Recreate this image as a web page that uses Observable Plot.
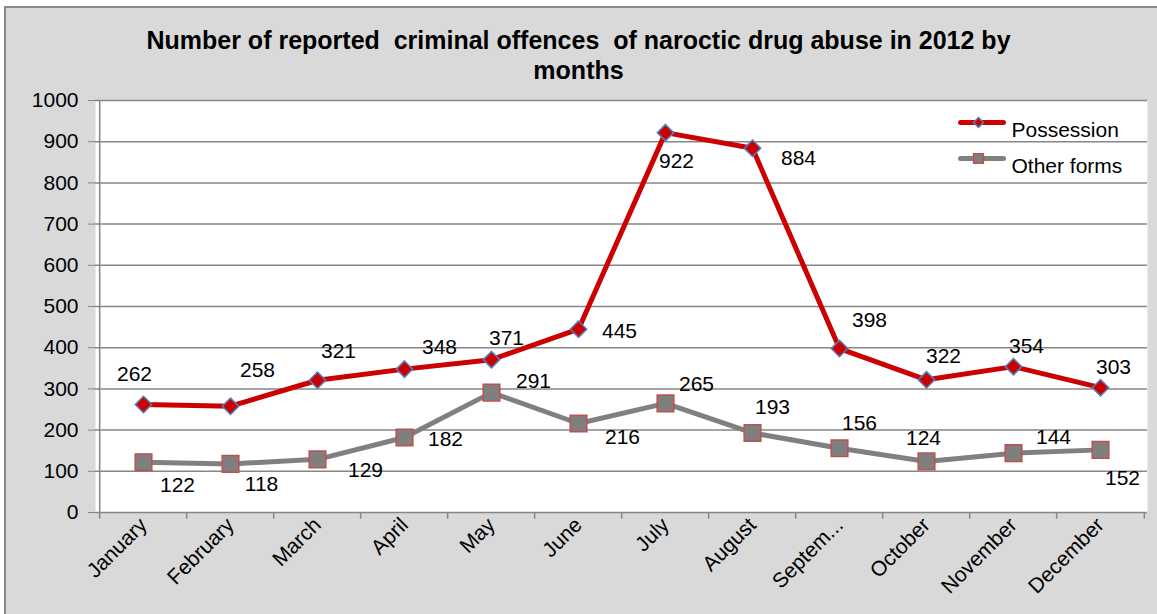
<!DOCTYPE html>
<html>
<head>
<meta charset="utf-8">
<script src="https://cdn.jsdelivr.net/npm/d3@7"></script>
<script src="https://cdn.jsdelivr.net/npm/@observablehq/plot@0.6"></script>
<style>
  html, body { margin: 0; padding: 0; background: #ffffff; overflow: hidden; }
  #page { position: relative; width: 1157px; height: 614px; font-family: "Liberation Sans", Arial, sans-serif; }
  #bg { position: absolute; left: 4px; top: 6px; width: 1160px; height: 620px; background: #d9d9d9;
        border-left: 2px solid #8a8a8a; border-top: 2px solid #8a8a8a; z-index: 0; }
  #content { position: relative; z-index: 1; padding-top: 25px; }
  #title { text-align: center; font-weight: bold; font-size: 25px; line-height: 30px; white-space: pre; color: #000; height: 60px; }
  #chart svg { display: block; overflow: visible; }
  #chart [aria-label="y-axis tick"], #chart [aria-label="y-axis"] .tick line { stroke: #868686; }
</style>
</head>
<body>
<div id="page">
  <div id="bg"></div>
  <div id="content">
    <div id="title">Number of reported  criminal offences  of naroctic drug abuse in 2012 by
months</div>
    <div id="chart"></div>
  </div>
</div>
<script>
// ---- data ----
const months = ["January", "February", "March", "April", "May", "June", "July", "August", "Septem...", "October", "November", "December"];
const possession = [262, 258, 321, 348, 371, 445, 922, 884, 398, 322, 354, 303];
const otherForms = [122, 118, 129, 182, 291, 216, 265, 193, 156, 124, 144, 152];
const yTicks = [0, 100, 200, 300, 400, 500, 600, 700, 800, 900, 1000];
const seriesNames = ["Possession", "Other forms"];
// data-label placement (pixel offsets from each point), as in the reference
const possLabelOffsets = [[-9,-30],[27,-36],[21,-29],[35,-22],[15,-21],[41,2],[11,29],[46,10],[30,-28],[17,-24],[13,-20],[13,-20]];
const otherLabelOffsets = [[34,23],[31,20],[48,11],[41,2],[42,-11],[44,14],[31,-19],[20,-26],[20,-25],[-3,-23],[40,-16],[22,28]];

// ---- build ----
const W = 1157, H = 529, mL = 95, mR = 10, mT = 15, mB = 102;
const step = (W - mL - mR) / months.length;
const possData = months.map((m, i) => ({month: m, value: possession[i]}));
const otherData = months.map((m, i) => ({month: m, value: otherForms[i]}));

const RED = "#cc0000", RED_EDGE = "#4f81bd";
const GRAY = "#808080", GRAY_EDGE = "#c0504d";
const GRID = "#868686";

const lineSymbol = { draw(ctx) { ctx.moveTo(-21.5, 0); ctx.lineTo(21.5, 0); } };

const labelMarks = [];
possData.forEach((d, i) => {
  labelMarks.push(Plot.text([d], {x: "month", y: "value", text: d => String(d.value),
    dx: possLabelOffsets[i][0], dy: possLabelOffsets[i][1], fontSize: 21, fill: "#000"}));
});
otherData.forEach((d, i) => {
  labelMarks.push(Plot.text([d], {x: "month", y: "value", text: d => String(d.value),
    dx: otherLabelOffsets[i][0], dy: otherLabelOffsets[i][1], fontSize: 21, fill: "#000"}));
});

const chart = Plot.plot({
  width: W, height: H,
  marginLeft: mL, marginRight: mR, marginTop: mT, marginBottom: mB,
  style: {background: "transparent", fontFamily: "'Liberation Sans', Arial, sans-serif", fontSize: "21px", color: "#000", overflow: "visible"},
  x: {type: "point", domain: months, padding: 0.5, label: null, tickSize: 0, tickPadding: 9, tickRotate: -45},
  y: {domain: [0, 1000], ticks: yTicks, tickFormat: d => String(d), label: null, tickSize: 7, tickPadding: 10},
  marks: [
    Plot.frame({fill: "#ffffff", stroke: null}),
    Plot.ruleY(yTicks, {stroke: GRID, strokeWidth: 1.5}),
    Plot.ruleX([months[0]], {dx: -step / 2, stroke: GRID, strokeWidth: 1.5}),
    Plot.ruleX(months, {y1: 0, y2: -16, dx: -step / 2, stroke: GRID, strokeWidth: 1.5}),
    Plot.ruleX([months[months.length - 1]], {y1: 0, y2: -16, dx: step / 2, stroke: GRID, strokeWidth: 1.5}),
    Plot.line(possData, {x: "month", y: "value", stroke: RED, strokeWidth: 5, strokeLinejoin: "round"}),
    Plot.line(otherData, {x: "month", y: "value", stroke: GRAY, strokeWidth: 5, strokeLinejoin: "round"}),
    Plot.dot(possData, {x: "month", y: "value", symbol: "diamond2", r: 7.4, fill: RED, stroke: RED_EDGE, strokeWidth: 1.5}),
    Plot.dot(otherData, {x: "month", y: "value", symbol: "square", r: 9.4, fill: "#7f7f7f", stroke: GRAY_EDGE, strokeWidth: 1.5}),
    ...labelMarks,
    // legend (inside plot, top-right)
    Plot.dot([0], {frameAnchor: "top-right", dx: -165.5, dy: 22, symbol: lineSymbol, r: 1, fill: "none", stroke: RED, strokeWidth: 5, strokeLinecap: "round"}),
    Plot.dot([0], {frameAnchor: "top-right", dx: -169, dy: 22, symbol: "diamond2", r: 4.5, fill: RED, stroke: RED_EDGE, strokeWidth: 1.5}),
    Plot.text([seriesNames[0]], {frameAnchor: "top-right", dx: -136, dy: 22, text: d => d, textAnchor: "start", fontSize: 21, fill: "#000"}),
    Plot.dot([0], {frameAnchor: "top-right", dx: -165.5, dy: 58, symbol: lineSymbol, r: 1, fill: "none", stroke: GRAY, strokeWidth: 5, strokeLinecap: "round"}),
    Plot.dot([0], {frameAnchor: "top-right", dx: -169, dy: 58, symbol: "square", r: 5.5, fill: "#7f7f7f", stroke: GRAY_EDGE, strokeWidth: 1.5}),
    Plot.text([seriesNames[1]], {frameAnchor: "top-right", dx: -136, dy: 58, text: d => d, textAnchor: "start", fontSize: 21, fill: "#000"})
  ]
});
document.getElementById("chart").appendChild(chart);
</script>
</body>
</html>
